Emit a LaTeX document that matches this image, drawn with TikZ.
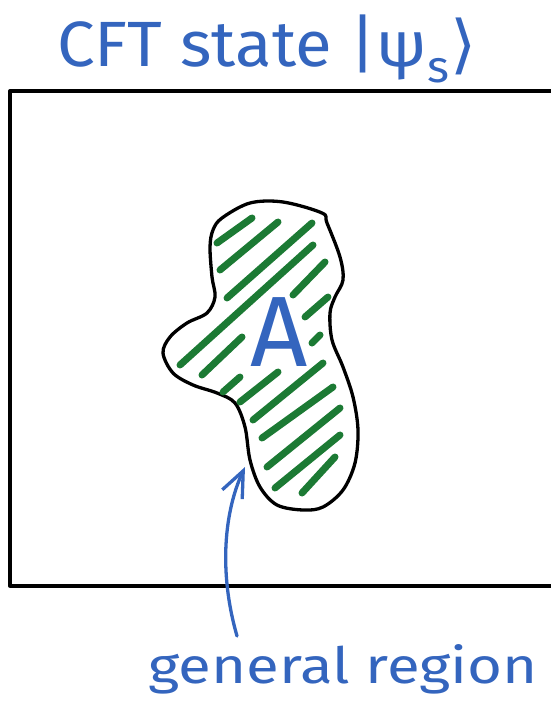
\documentclass[tikz,border=0pt]{standalone}
\usepackage{fontspec}
\setmainfont{Fira Sans}
\newfontfamily\symfont{DejaVu Sans}
\usetikzlibrary{arrows.meta}
\definecolor{penblue}{RGB}{52,101,190}
\definecolor{pengreen}{RGB}{28,122,52}
\begin{document}
\begin{tikzpicture}[x=1pt,y=-1pt,
    ink/.style={line width=3.3pt,line cap=round,line join=round},
    hatch/.style={pengreen,line width=7pt,line cap=round},
    txt/.style={penblue,inner sep=0pt}]
        \useasboundingbox (0,0) rectangle (550,714);

        % the CFT box, cut off at the right
        \draw[ink] (556,91) -- (10,91) -- (10,586) -- (556,586);

        % region A
        \draw[ink] plot[smooth cycle,tension=0.55] coordinates {
          (222,218) (250,203) (283,202) (322,213) (327,223) (340,257)
          (343,280) (335,297) (330,313) (332,340) (343,367) (353,397)
          (358,430) (355,463) (343,490) (323,507) (303,510) (277,505)
          (260,487) (250,460) (245,427) (235,403) (217,393) (193,385)
          (173,373) (163,353) (170,337) (187,323) (207,313) (215,297)
          (212,277) (210,247) (213,230)};
        \foreach \xa/\ya/\xb/\yb in {217/243/252/218, 220/270/278/222,
            227/298/312/223, 180/365/313/245, 293/295/325/262,
            305/317/328/297, 202/375/242/337, 312/343/320/335,
            223/392/240/377, 240/402/278/372, 253/420/323/363,
            262/438/333/387, 267/467/340/408, 275/488/340/435,
            302/493/335/457}
          \draw[hatch] (\xa,\ya) -- (\xb,\yb);

        \node[txt,font=\fontsize{100}{100}\selectfont] (A) at (279,332) {A};
        \node[txt,anchor=base west,font=\fontsize{64}{64}\selectfont] (title) at (57,67)
          {\scalebox{1.05}[1]{CFT state |ψ\textsubscript{s}{\symfont ⟩}}};
        \node[txt,anchor=base west,font=\fontsize{50}{50}\selectfont] (label) at (148,683)
          {\scalebox{1.2}[1]{general region}};

        \coordinate (tail) at (237,636);
        \coordinate (tip) at (245,467);
        \draw[ink,penblue,-{Straight Barb[length=26pt,width=22pt]}]
          (tail) .. controls (218,570) and (225,510) .. (tip);
      \end{tikzpicture}
\end{document}
